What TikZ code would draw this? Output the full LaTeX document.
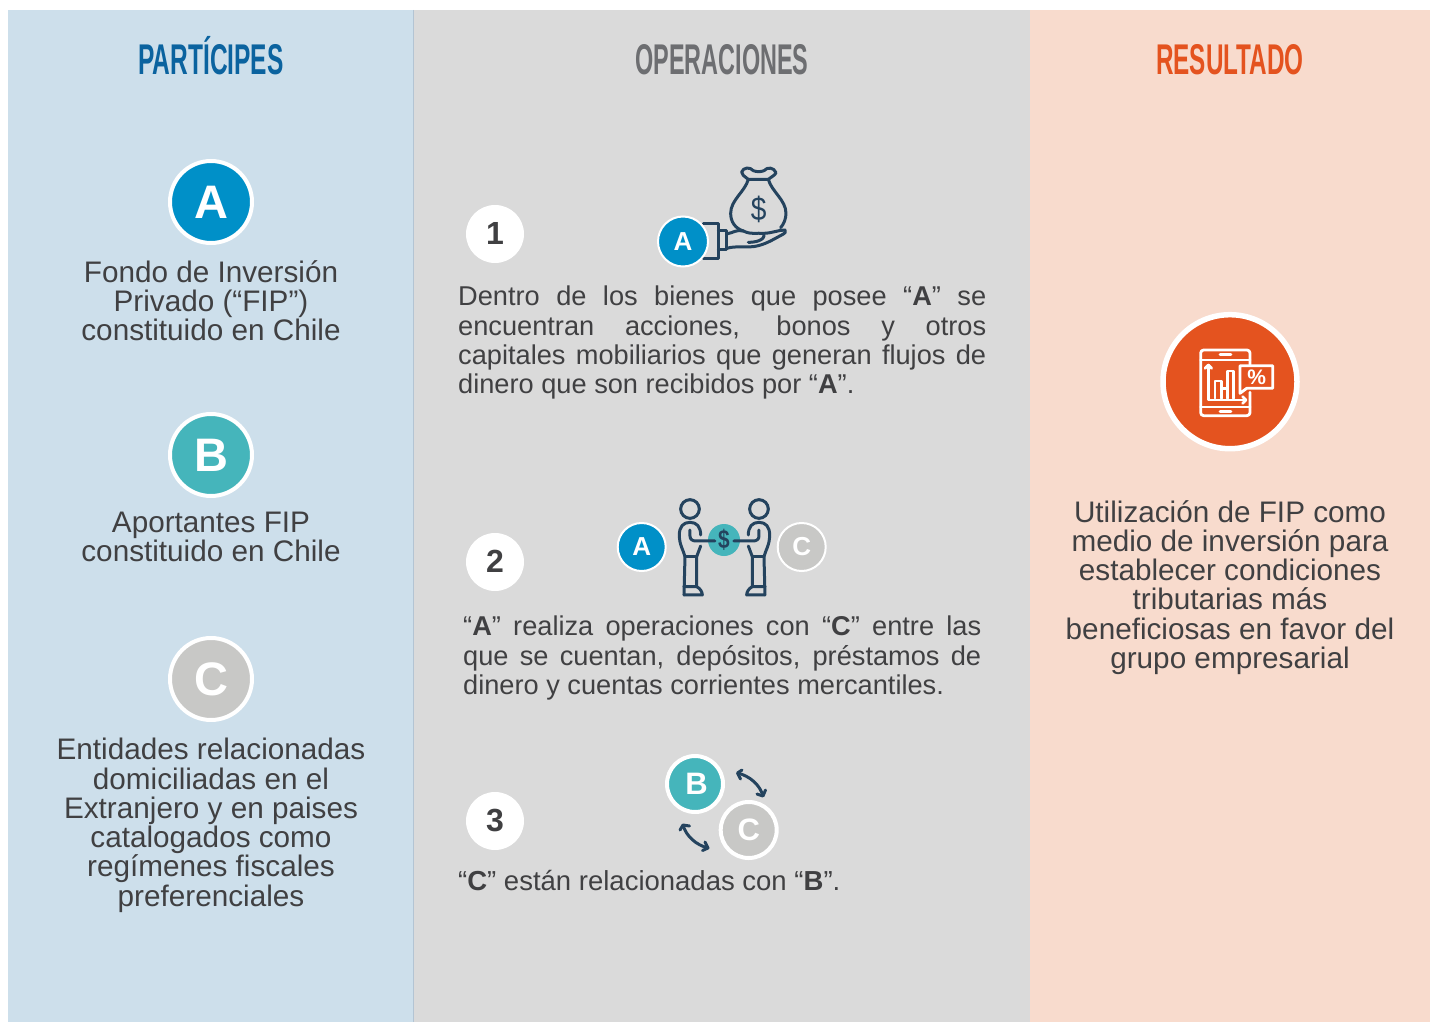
\documentclass[tikz,border=0pt]{standalone}
\usepackage{fontspec}
\usepackage{graphicx}
\setmainfont{Liberation Sans}
\definecolor{pblue}{HTML}{CDDFEB}
\definecolor{pgrey}{HTML}{DADADA}
\definecolor{ppeach}{HTML}{F8DBCD}
\definecolor{lineblue}{HTML}{B3C4D3}
\definecolor{cA}{HTML}{0090C8}
\definecolor{cB}{HTML}{45B5BB}
\definecolor{cC}{HTML}{C8C8C6}
\definecolor{hblue}{HTML}{0B639F}
\definecolor{hgrey}{HTML}{6D6E71}
\definecolor{horange}{HTML}{E4531F}
\definecolor{txt}{HTML}{404042}
\definecolor{ink}{HTML}{24435E}
\tikzset{
  hdr/.style={font=\fontsize{43}{43}\selectfont\bfseries,anchor=base,inner sep=0},
  bigdisc/.style={circle,draw=white,line width=4pt,minimum size=82pt,inner sep=0,text=white,font=\bfseries\fontsize{47}{47}\selectfont},
  middisc/.style={circle,draw=white,line width=4pt,minimum size=56pt,inner sep=0,text=white,font=\bfseries\fontsize{31}{31}\selectfont},
  smalldisc/.style={circle,draw=white,line width=2pt,minimum size=48pt,inner sep=0,text=white,font=\bfseries\fontsize{26}{26}\selectfont},
  numdisc/.style={circle,fill=white,minimum size=58pt,inner sep=0,text=txt,font=\bfseries\fontsize{32}{32}\selectfont},
  ctext/.style={align=center,text=txt,inner sep=0,anchor=north,font=\fontsize{29.7}{29.3}\selectfont},
  jtext/.style={align=justify,text=txt,inner sep=0,anchor=north west,font=\fontsize{27.2}{29.3}\selectfont},
  icon/.style={draw=ink,line width=3pt,line cap=round,line join=round},
  wicon/.style={draw=white,line width=2.8pt,line cap=round,line join=round},
}
\newcommand{\hscale}[2][0.57]{\scalebox{#1}[1]{#2}}
\begin{document}
\begin{tikzpicture}[x=1pt,y=-1pt]
\useasboundingbox (0,0) rectangle (1435,1022);
\fill[white] (0,0) rectangle (1435,1022);
\fill[pblue] (8,10) rectangle (413,1022);
\fill[pgrey] (413,10) rectangle (1030,1022);
\fill[ppeach] (1030,10) rectangle (1430,1022);
\draw[lineblue,line width=1pt] (413.5,10) -- (413.5,1022);

\node[hdr,text=hblue] (h1) at (211,74.5) {\hscale{PARTÍCIPES}};
\node[hdr,text=hgrey] (h2) at (722,74.5) {\hscale[0.545]{OPERACIONES}};
\node[hdr,text=horange] (h3) at (1230,74.5) {\hscale[0.565]{RESULTADO}};

\node[bigdisc,fill=cA] (dA) at (211,202) {A};
\node[bigdisc,fill=cB] (dB) at (211,455) {B};
\node[bigdisc,fill=cC] (dC) at (211,679) {C};

\node[ctext] (tA) at (211,260) {Fondo de Inversión\\Privado (“FIP”)\\constituido en Chile};
\node[ctext] (tB) at (211,512) {Aportantes FIP\\constituido en Chile};
\node[ctext] (tC) at (211,738) {Entidades relacionadas\\domiciliadas en el\\Extranjero y en paises\\catalogados como\\regímenes fiscales\\preferenciales};

\node[numdisc] (n1) at (495,234) {\raisebox{1pt}{1}};
\node[numdisc] (n2) at (495,562) {\raisebox{1pt}{2}};
\node[numdisc] (n3) at (495,821) {\raisebox{1pt}{3}};

\node[jtext,text width=528pt] (t1) at (458,286) {Dentro de los bienes que posee “\textbf{A}” se\linebreak encuentran acciones, bonos y otros\linebreak capitales mobiliarios que generan flujos de\linebreak dinero que son recibidos por “\textbf{A}”.};
\node[jtext,text width=518pt] (t2) at (463,616) {“\textbf{A}” realiza operaciones con “\textbf{C}” entre las\linebreak que se cuentan, depósitos, préstamos de\linebreak dinero y cuentas corrientes mercantiles.};
\node[jtext,text width=528pt,font=\fontsize{27.5}{29.3}\selectfont] (t3) at (458,870) {“\textbf{C}” están relacionadas con “\textbf{B}”.};

\node[ctext] (tR) at (1230,500) {Utilización de FIP como\\medio de inversión para\\establecer condiciones\\tributarias más\\beneficiosas en favor del\\grupo empresarial};

% money bag and hand
\begin{scope}[shift={(640,150)},x=0.3333pt,y=-0.3333pt]
  \draw[icon] (325,88) .. controls (312,78) and (305,74) .. (305,66) .. controls (310,52) and (330,50) .. (340,62) .. controls (350,66) and (362,66) .. (372,62) .. controls (382,50) and (402,52) .. (408,68) .. controls (405,76) and (395,80) .. (385,88) -- cycle;
  \draw[icon] (325,88) .. controls (315,125) and (272,150) .. (272,190) .. controls (272,215) and (285,235) .. (310,243);
  \draw[icon] (385,88) .. controls (395,125) and (438,150) .. (438,190) .. controls (438,205) and (432,222) .. (422,233);
  \node[inner sep=0,text=ink,font=\fontsize{33}{33}\selectfont] (dollar1) at (356,178) {\scalebox{0.85}[1]{\$}};
  \draw[icon] (190,222) -- (235,222) -- (235,327) -- (190,327);
  \draw[icon] (235,242) -- (260,242) -- (260,300) -- (235,300);
  \draw[icon] (260,252) .. controls (280,248) and (290,238) .. (310,243) .. controls (335,255) and (350,248) .. (370,250) .. controls (395,250) and (415,240) .. (435,240) .. controls (440,245) and (435,250) .. (425,255) .. controls (400,268) and (375,285) .. (340,290) .. controls (310,292) and (285,288) .. (260,295);
  \draw[icon] (325,277) .. controls (345,277) and (375,272) .. (372,252);
\end{scope}
\node[smalldisc,fill=cA,minimum size=50pt] (iA1) at (683,241.5) {A};

% handshake with coin
\node[circle,fill=cB,minimum size=32pt,inner sep=0] (coin) at (724,540) {};
\begin{scope}[shift={(600,490)},x=0.3333pt,y=-0.3333pt]
  \foreach \m/\xs in {0/1,747/-1}{
  \begin{scope}[shift={(\m,0)},xscale=\xs]
    \draw[icon] (270,57) circle (28);
    \draw[icon] (270,120) -- (270,138) .. controls (270,148) and (277,153) .. (288,153) -- (345,153);
    \draw[icon] (302,135) .. controls (302,110) and (290,97) .. (270,97) .. controls (250,97) and (238,110) .. (238,135) .. controls (238,165) and (250,180) .. (255,200) -- (252,315);
    \draw[icon] (302,168) -- (290,200) -- (290,290);
    \draw[icon] (255,200) -- (290,200);
    \draw[icon] (252,290) -- (290,290) .. controls (300,295) and (307,305) .. (307,315) -- (252,315);
  \end{scope}}
  \node[inner sep=0,text=ink,font=\bfseries\fontsize{26}{26}\selectfont] (dollar2) at (372,150) {\scalebox{0.8}[1]{\$}};
\end{scope}
\node[smalldisc,fill=cA] (iA2) at (641.7,547) {A};
\node[smalldisc,fill=cC] (iC2) at (801.7,547) {C};

% B and C with arrows
\node[middisc,fill=cB] (iB3) at (695,784) {\kern3pt\raisebox{1pt}{B}};
\node[middisc,fill=cC] (iC3) at (748.7,830) {C};
\coordinate (a1s) at (737.5,773);
\coordinate (a1e) at (763,796);
\coordinate (a2s) at (683,825);
\coordinate (a2e) at (708,848);
\draw[icon,line cap=butt] (a1s) .. controls (750,776) and (760,785) .. (a1e);
\draw[icon] (742,770) -- (a1s) -- (740.5,779);
\draw[icon] (757,794) -- (a1e) -- (765.5,790);
\draw[icon,line cap=butt] (a2s) .. controls (686,836) and (696,845) .. (a2e);
\draw[icon] (680,830) -- (a2s) -- (689.5,826);
\draw[icon] (702.5,850.5) -- (a2e) -- (705,842);

% result icon
\node[circle,draw=white,fill=horange,line width=5.5pt,minimum size=134pt,inner sep=0] (dR) at (1230,381.7) {};
\begin{scope}[shift={(1150,305)},x=0.3333pt,y=-0.3333pt]
  \draw[wicon,rounded corners=3pt] (300,182) -- (300,135) -- (152,135) -- (152,332) -- (300,332) -- (300,262);
  \draw[wicon] (152,165) -- (300,165);
  \draw[wicon] (152,306) -- (300,306);
  \draw[wicon] (210,149) -- (243,149);
  \draw[wicon] (210,320) -- (243,320);
  \draw[wicon] (175,180) -- (175,285) -- (288,285);
  \draw[wicon] (165,190) -- (175,180) -- (185,190);
  \draw[wicon] (278,275) -- (288,285) -- (278,295);
  \draw[wicon] (195,280) -- (195,228) -- (215,228) -- (215,280);
  \draw[wicon] (232,280) -- (232,198) -- (250,198) -- (250,280);
  \draw[wicon] (215,250) -- (232,250);
  \draw[wicon,fill=horange] (270,182) -- (368,182) -- (368,250) -- (290,250) -- (270,265) -- cycle;
  \node[inner sep=0,text=white,font=\bfseries\fontsize{21}{21}\selectfont] (pct) at (320,216) {\%};
\end{scope}
\end{tikzpicture}
\end{document}
